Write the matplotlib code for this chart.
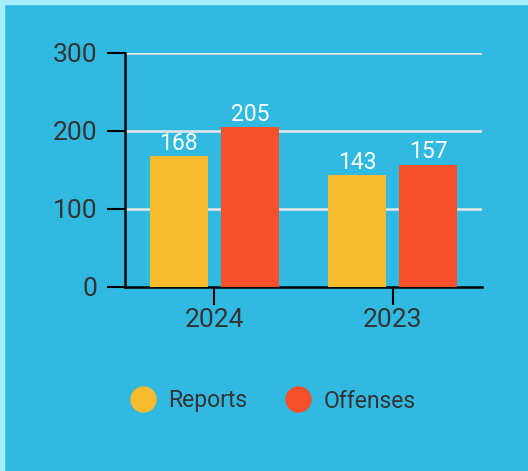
import matplotlib.pyplot as plt
from matplotlib.lines import Line2D
from matplotlib.patches import Rectangle
import numpy as np

# Data
years = ["2024", "2023"]
reports = [168, 143]
offenses = [205, 157]
y_ticks = [0, 100, 200, 300]

bg = "#31bae1"
c_reports = "#f7bb2d"
c_offenses = "#f9502c"
text_dark = "#333333"

plt.rcParams['font.family'] = ['Roboto', 'DejaVu Sans']

fig = plt.figure(figsize=(5.28, 4.71), dpi=100, facecolor=bg)
ax = fig.add_axes([125 / 528, 1 - 287 / 471, 357 / 528, (287 - 53) / 471])
ax.set_facecolor(bg)

# light strip on top and left edges
fig.patches.append(Rectangle((0, 1 - 4 / 471), 1, 4 / 471, transform=fig.transFigure,
                             color="#a8effd", zorder=0))
fig.patches.append(Rectangle((0, 0), 4 / 528, 1, transform=fig.transFigure,
                             color="#a8effd", zorder=0))

x = np.arange(len(years))
w = 0.325
b1 = ax.bar(x - 0.2, reports, w, color=c_reports, zorder=3)
b2 = ax.bar(x + 0.2, offenses, w, color=c_offenses, zorder=3)
ax.bar_label(b1, padding=1, color="white", fontsize=16.5)
ax.bar_label(b2, padding=1, color="white", fontsize=16.5)

ax.set_xlim(-0.5, 1.5)
ax.set_ylim(0, 300)
ax.set_xticks(x)
ax.set_xticklabels(years)
ax.set_yticks(y_ticks)
ax.tick_params(axis='both', length=13, width=1.5, color='black',
               labelsize=19, labelcolor=text_dark)
ax.tick_params(axis='y', pad=7)
ax.tick_params(axis='x', pad=2)

for y in y_ticks[1:]:
    ax.axhline(y, color="#e6e6e6", lw=1.8, zorder=1)

for s in ['top', 'right']:
    ax.spines[s].set_visible(False)
for s in ['left', 'bottom']:
    ax.spines[s].set_linewidth(1.8)
    ax.spines[s].set_color('black')

handles = [
    Line2D([], [], marker='o', linestyle='', markersize=18, color=c_reports, label='Reports'),
    Line2D([], [], marker='o', linestyle='', markersize=18, color=c_offenses, label='Offenses'),
]
fig.legend(handles=handles, loc='center', bbox_to_anchor=(268 / 528, 1 - 401 / 471),
           ncol=2, frameon=False, fontsize=16.5, labelcolor=text_dark,
           handletextpad=0.1, columnspacing=1.2)

fig.savefig("out.png", dpi=100, facecolor=bg)
